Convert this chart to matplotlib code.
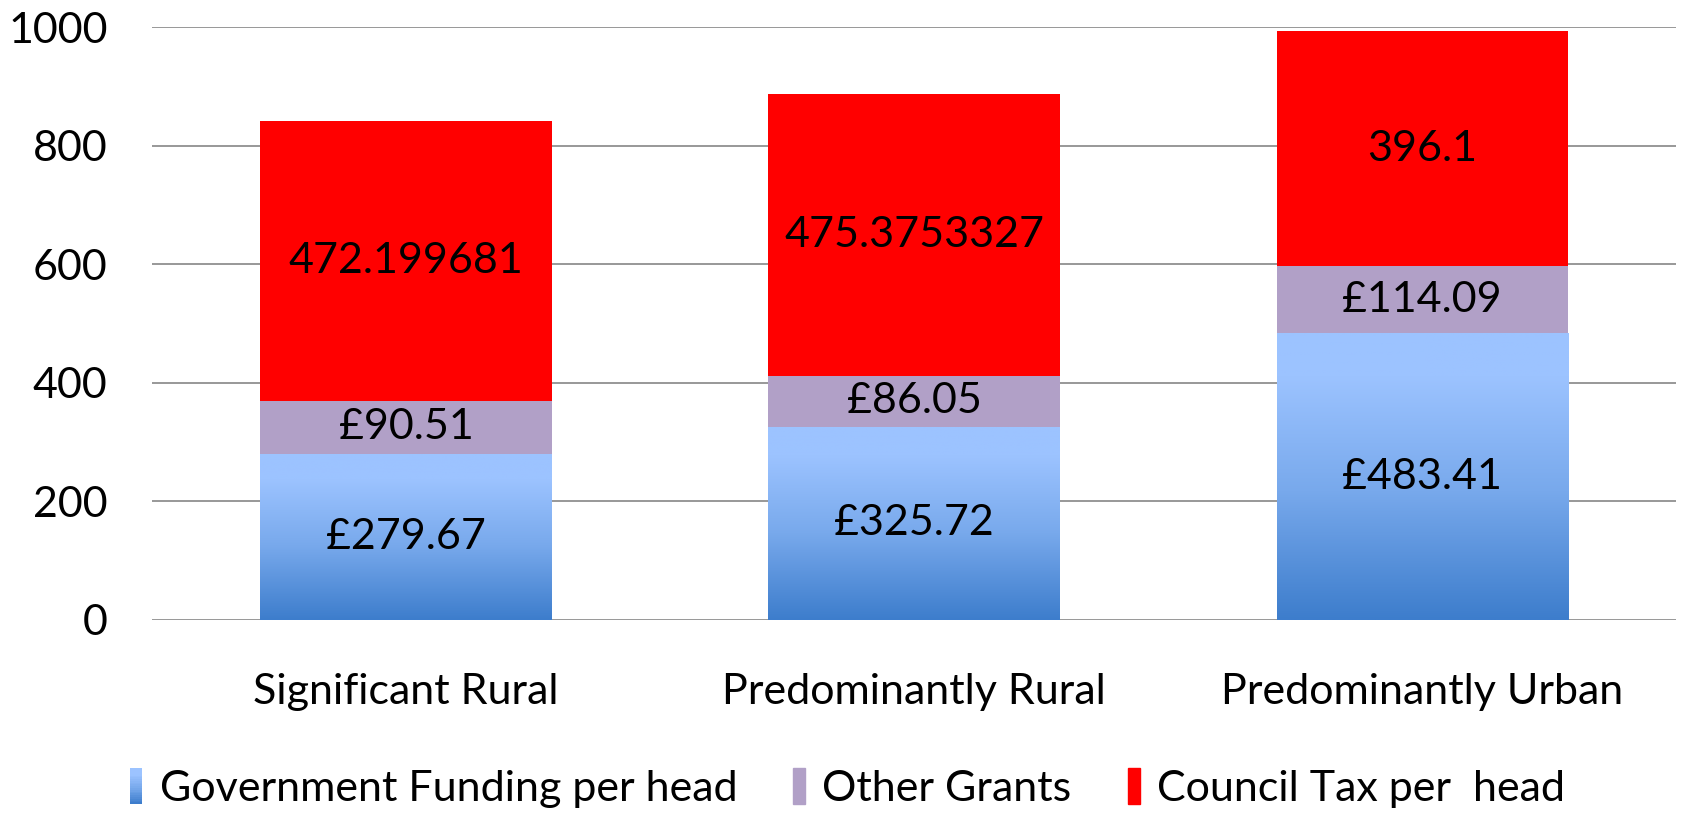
"""Funding per head by area type, stacked bars"""

import numpy as np
import matplotlib
matplotlib.use("Agg")
import matplotlib.pyplot as plt
from matplotlib.patches import Rectangle
from matplotlib.legend_handler import HandlerBase
from matplotlib.colors import LinearSegmentedColormap

categories = ["Significant Rural", "Predominantly Rural", "Predominantly Urban"]
gov_funding = [279.67, 325.72, 483.41]
other_grants = [90.51, 86.05, 114.09]
council_tax = [472.199681, 475.3753327, 396.1]

gov_labels = ["£279.67", "£325.72", "£483.41"]
other_labels = ["£90.51", "£86.05", "£114.09"]
council_labels = ["472.199681", "475.3753327", "396.1"]

series_names = ["Government Funding per head", "Other Grants", "Council Tax per  head"]

plt.rcParams["font.family"] = ["Lato", "DejaVu Sans"]

blue_top = "#9cc3ff"
blue_bottom = "#3d7dcc"
lilac = "#b1a0c7"
red = "#ff0000"
blue_cmap = LinearSegmentedColormap.from_list(
    "gov", [(0.0, blue_bottom), (0.45, "#78a9ec"), (0.85, blue_top), (1.0, blue_top)])

FS = 31


class GradientHandler(HandlerBase):
    def create_artists(self, legend, orig_handle, xdescent, ydescent,
                       width, height, fontsize, trans):
        n = 20
        arts = []
        for i in range(n):
            r = Rectangle((-xdescent, -ydescent + height * i / n), width, height / n + 0.3,
                          facecolor=blue_cmap(i / (n - 1)), edgecolor="none", transform=trans)
            arts.append(r)
        return arts


fig = plt.figure(figsize=(16.85, 8.16), dpi=100)
ax = fig.add_axes([0.0902, 0.2402, 0.9045, 0.7263])

x = np.arange(len(categories))
width = 0.573

b1 = ax.bar(x, gov_funding, width, color="none", edgecolor="none", zorder=3)
b2 = ax.bar(x, other_grants, width, bottom=gov_funding, color=lilac, zorder=3)
base3 = np.array(gov_funding) + np.array(other_grants)
b3 = ax.bar(x, council_tax, width, bottom=base3, color=red, zorder=3)

# vertical gradient inside the blue bars
grad = np.linspace(0, 1, 256).reshape(-1, 1)
for p in b1.patches:
    im = ax.imshow(grad, cmap=blue_cmap, aspect="auto", origin="lower",
                   extent=(p.get_x(), p.get_x() + p.get_width(), p.get_y(), p.get_y() + p.get_height()),
                   zorder=3)
    im.set_clip_path(p)

for bars, labels in [(b1, gov_labels), (b2, other_labels), (b3, council_labels)]:
    for p, lab in zip(bars.patches, labels):
        ax.text(p.get_x() + p.get_width() / 2, p.get_y() + p.get_height() / 2, lab,
                ha="center", va="center", fontsize=FS, color="black", zorder=4)

ax.set_xlim(-0.5, len(categories) - 0.5)
ax.set_ylim(0, 1000)
ax.set_yticks(range(0, 1001, 200))
ax.set_xticks(x)
ax.set_xticklabels(categories)
ax.tick_params(axis="y", length=0, labelsize=FS, pad=32)
ax.tick_params(axis="x", length=0, labelsize=FS, pad=38)
ax.grid(axis="y", color="#868686", linewidth=1.2, zorder=0)
for s in ax.spines.values():
    s.set_visible(False)

handles = [Rectangle((0, 0), 1, 1), Rectangle((0, 0), 1, 1, color=lilac), Rectangle((0, 0), 1, 1, color=red)]
ax.legend(handles, series_names, loc="center", bbox_to_anchor=(0.503, 0.034),
          bbox_transform=fig.transFigure, ncol=3, frameon=False, fontsize=FS,
          handlelength=0.28, handleheight=0.9, handletextpad=0.4, columnspacing=1.3,
          handler_map={handles[0]: GradientHandler()})

fig.savefig("out.png", dpi=100)
